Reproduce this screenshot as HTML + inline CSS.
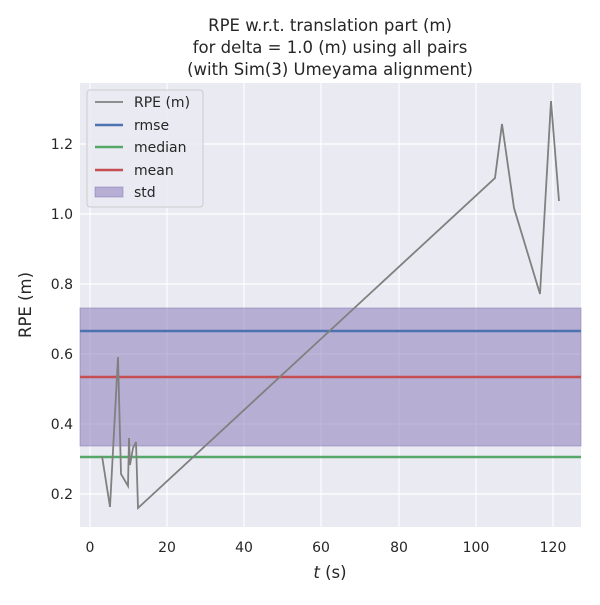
<!DOCTYPE html><html><head><style>body{margin:0;background:#fff}</style></head><body>
<svg width="600" height="600" xmlns="http://www.w3.org/2000/svg" font-family="DejaVu Sans, Liberation Sans, sans-serif">
<rect x="0" y="0" width="600" height="600" fill="#fff"/>
<rect x="80" y="83" width="501" height="444" fill="#eaeaf2"/>
<g stroke="#fff" stroke-width="1.2">
<line x1="90" y1="83" x2="90" y2="527"/><line x1="167" y1="83" x2="167" y2="527"/><line x1="244" y1="83" x2="244" y2="527"/><line x1="321" y1="83" x2="321" y2="527"/><line x1="399" y1="83" x2="399" y2="527"/><line x1="476" y1="83" x2="476" y2="527"/><line x1="553" y1="83" x2="553" y2="527"/>
<line x1="80" y1="144" x2="581" y2="144"/><line x1="80" y1="214" x2="581" y2="214"/><line x1="80" y1="284" x2="581" y2="284"/><line x1="80" y1="354" x2="581" y2="354"/><line x1="80" y1="424" x2="581" y2="424"/><line x1="80" y1="494" x2="581" y2="494"/>
</g>
<rect x="80" y="308" width="501" height="138" fill="#8172b3" fill-opacity="0.5" stroke="#8172b3" stroke-opacity="0.5"/>
<line x1="80" y1="331" x2="581" y2="331" stroke="#4c72b0" stroke-width="2.5"/>
<line x1="80" y1="377" x2="581" y2="377" stroke="#c44e52" stroke-width="2.5"/>
<line x1="80" y1="457" x2="581" y2="457" stroke="#55a868" stroke-width="2.5"/>
<polyline fill="none" stroke="#808080" stroke-width="1.8" points="102,456 110,507 118,357 121,474 128,486 129,438 130,465 133,448 136,442 138,508 495,178 502,124 514,208 540,294 551,101 559,201"/>
<g font-size="14" fill="#262626" text-anchor="end">
<text x="73" y="149">1.2</text><text x="73" y="219">1.0</text><text x="73" y="289">0.8</text><text x="73" y="359">0.6</text><text x="73" y="429">0.4</text><text x="73" y="499">0.2</text>
</g>
<g font-size="14" fill="#262626" text-anchor="middle">
<text x="90" y="552">0</text><text x="167" y="552">20</text><text x="244" y="552">40</text><text x="321" y="552">60</text><text x="399" y="552">80</text><text x="476" y="552">100</text><text x="553" y="552">120</text>
<text x="330" y="578" font-size="16.5"><tspan font-style="italic">t</tspan> (s)</text>
<text x="330" y="31" font-size="16.5">RPE w.r.t. translation part (m)</text>
<text x="330" y="53" font-size="16.5">for delta = 1.0 (m) using all pairs</text>
<text x="330" y="75" font-size="16.5">(with Sim(3) Umeyama alignment)</text>
<text transform="translate(31,305) rotate(-90)" font-size="16.5">RPE (m)</text>
</g>
<rect x="87" y="90" width="116" height="117" rx="3" fill="#eaeaf2" fill-opacity="0.8" stroke="#ccc"/>
<g stroke-width="2.5">
<line x1="95" y1="102" x2="123" y2="102" stroke="#808080" stroke-width="1.8"/>
<line x1="95" y1="125" x2="123" y2="125" stroke="#4c72b0"/>
<line x1="95" y1="147" x2="123" y2="147" stroke="#55a868"/>
<line x1="95" y1="170" x2="123" y2="170" stroke="#c44e52"/>
</g>
<rect x="95" y="187" width="28" height="10" fill="#8172b3" fill-opacity="0.5" stroke="#8172b3" stroke-opacity="0.5"/>
<g font-size="14" fill="#262626">
<text x="134" y="107">RPE (m)</text><text x="134" y="130">rmse</text><text x="134" y="152">median</text><text x="134" y="175">mean</text><text x="134" y="197">std</text>
</g>
</svg>
</body></html>
